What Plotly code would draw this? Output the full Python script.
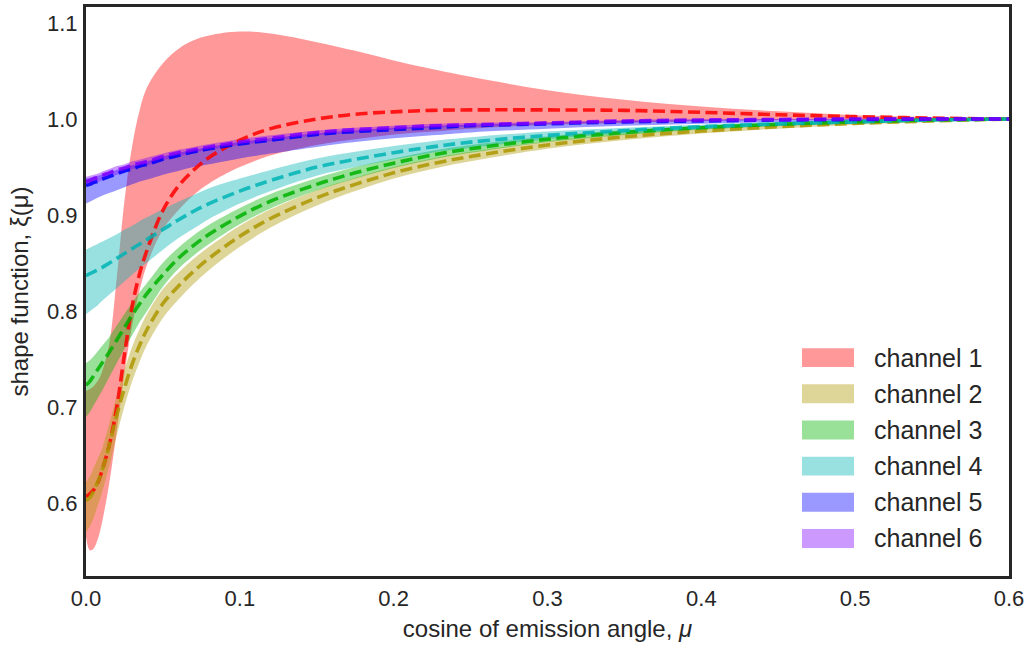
import plotly.graph_objects as go

# ---------------- data ----------------
mu = [0, 0.0025, 0.005, 0.0075, 0.01, 0.015, 0.02, 0.025, 0.03, 0.035, 0.04, 0.05,
      0.06, 0.07, 0.08, 0.1, 0.12, 0.15, 0.175, 0.2, 0.225, 0.25, 0.3, 0.35, 0.4, 0.45, 0.5, 0.55, 0.6]

channels = ["channel 1", "channel 2", "channel 3", "channel 4", "channel 5", "channel 6"]

ch1_mean = [0.607, 0.610, 0.614, 0.621, 0.632, 0.660, 0.700, 0.755, 0.805, 0.840, 0.865, 0.905,
            0.930, 0.947, 0.960, 0.978, 0.990, 1.000, 1.005, 1.0075, 1.009, 1.0095, 1.0095, 1.009, 1.007, 1.0045, 1.0025, 1.001, 1.000]
ch1_lo = [0.565, 0.551, 0.553, 0.562, 0.577, 0.620, 0.675, 0.735, 0.785, 0.823, 0.850, 0.885,
          0.905, 0.921, 0.933, 0.950, 0.962, 0.973, 0.979, 0.984, 0.987, 0.990, 0.994, 0.996, 0.998, 0.999, 0.9995, 1.000, 1.000]
ch1_hi = [0.717, 0.719, 0.722, 0.727, 0.735, 0.765, 0.835, 0.915, 0.972, 1.010, 1.034, 1.058,
          1.073, 1.082, 1.087, 1.091, 1.089, 1.080, 1.071, 1.061, 1.052, 1.044, 1.030, 1.020, 1.013, 1.008, 1.004, 1.002, 1.000]

ch2_mean = [0.603, 0.606, 0.613, 0.622, 0.632, 0.660, 0.692, 0.720, 0.745, 0.765, 0.782, 0.808,
            0.826, 0.8415, 0.855, 0.878, 0.8965, 0.918, 0.932, 0.944, 0.9535, 0.961, 0.973, 0.9815, 0.9875, 0.992, 0.9955, 0.998, 1.000]
ch2_lo = [0.570, 0.576, 0.585, 0.597, 0.609, 0.638, 0.671, 0.701, 0.727, 0.748, 0.766, 0.793,
          0.812, 0.8285, 0.843, 0.867, 0.887, 0.910, 0.925, 0.938, 0.948, 0.956, 0.969, 0.9782, 0.9849, 0.990, 0.994, 0.997, 0.9995]
ch2_hi = [0.622, 0.628, 0.637, 0.646, 0.655, 0.682, 0.712, 0.739, 0.763, 0.782, 0.798, 0.823,
          0.840, 0.8545, 0.867, 0.889, 0.906, 0.926, 0.939, 0.950, 0.959, 0.966, 0.977, 0.9848, 0.9901, 0.994, 0.997, 0.999, 1.0005]

ch3_mean = [0.723, 0.727, 0.733, 0.739, 0.745, 0.757, 0.770, 0.783, 0.796, 0.808, 0.819, 0.838,
            0.855, 0.8685, 0.880, 0.899, 0.9145, 0.932, 0.944, 0.954, 0.9625, 0.969, 0.979, 0.986, 0.991, 0.9945, 0.997, 0.999, 1.000]
ch3_lo = [0.690, 0.695, 0.702, 0.709, 0.716, 0.731, 0.746, 0.761, 0.775, 0.789, 0.801, 0.8255,
          0.844, 0.858, 0.870, 0.8905, 0.907, 0.9255, 0.938, 0.949, 0.958, 0.965, 0.976, 0.9835, 0.989, 0.9928, 0.9958, 0.9982, 0.9995]
ch3_hi = [0.746, 0.749, 0.753, 0.758, 0.763, 0.773, 0.785, 0.797, 0.809, 0.820, 0.830, 0.8505,
          0.866, 0.879, 0.890, 0.9075, 0.922, 0.9385, 0.950, 0.959, 0.967, 0.973, 0.982, 0.9885, 0.993, 0.9962, 0.9982, 0.9998, 1.0005]

ch4_mean = [0.837, 0.839, 0.841, 0.843, 0.845, 0.850, 0.855, 0.860, 0.865, 0.870, 0.875, 0.885,
            0.895, 0.904, 0.912, 0.925, 0.936, 0.950, 0.958, 0.965, 0.971, 0.976, 0.983, 0.988, 0.992, 0.995, 0.997, 0.999, 1.000]
ch4_lo = [0.797, 0.800, 0.803, 0.806, 0.810, 0.817, 0.824, 0.831, 0.838, 0.845, 0.851, 0.864,
          0.876, 0.886, 0.896, 0.912, 0.925, 0.941, 0.950, 0.958, 0.965, 0.970, 0.979, 0.985, 0.989, 0.993, 0.995, 0.998, 0.9995]
ch4_hi = [0.864, 0.866, 0.868, 0.870, 0.872, 0.876, 0.880, 0.885, 0.889, 0.894, 0.898, 0.906,
          0.914, 0.921, 0.928, 0.938, 0.947, 0.959, 0.966, 0.972, 0.977, 0.981, 0.987, 0.991, 0.994, 0.997, 0.998, 0.9995, 1.0005]

ch5_mean = [0.931, 0.932, 0.934, 0.935, 0.937, 0.940, 0.943, 0.946, 0.948, 0.951, 0.953, 0.958,
            0.962, 0.966, 0.969, 0.974, 0.978, 0.984, 0.987, 0.989, 0.991, 0.993, 0.995, 0.997, 0.998, 0.999, 0.9995, 1.000, 1.000]
ch5_lo = [0.912, 0.914, 0.916, 0.918, 0.920, 0.923, 0.926, 0.929, 0.932, 0.935, 0.937, 0.942,
          0.946, 0.950, 0.953, 0.959, 0.964, 0.971, 0.976, 0.980, 0.983, 0.986, 0.990, 0.993, 0.995, 0.997, 0.998, 0.999, 0.9995]
ch5_hi = [0.938, 0.939, 0.940, 0.941, 0.942, 0.945, 0.947, 0.950, 0.952, 0.954, 0.956, 0.961,
          0.965, 0.968, 0.971, 0.976, 0.980, 0.985, 0.988, 0.991, 0.9925, 0.994, 0.996, 0.998, 0.999, 0.9995, 1.000, 1.000, 1.0005]

ch6_mean = [0.935, 0.936, 0.938, 0.939, 0.941, 0.944, 0.947, 0.949, 0.952, 0.954, 0.956, 0.961,
            0.965, 0.968, 0.971, 0.976, 0.980, 0.986, 0.989, 0.991, 0.993, 0.994, 0.996, 0.998, 0.999, 0.9995, 1.000, 1.000, 1.000]
ch6_lo = [0.930, 0.931, 0.933, 0.934, 0.936, 0.939, 0.942, 0.945, 0.948, 0.950, 0.952, 0.957,
          0.961, 0.965, 0.968, 0.973, 0.977, 0.983, 0.986, 0.989, 0.991, 0.992, 0.995, 0.997, 0.998, 0.999, 0.9995, 0.9995, 0.9995]
ch6_hi = [0.940, 0.941, 0.942, 0.943, 0.945, 0.948, 0.951, 0.953, 0.956, 0.958, 0.960, 0.964,
          0.968, 0.971, 0.974, 0.979, 0.983, 0.988, 0.991, 0.993, 0.995, 0.996, 0.997, 0.999, 1.000, 1.000, 1.0005, 1.0005, 1.0005]

x_ticks = [0.0, 0.1, 0.2, 0.3, 0.4, 0.5, 0.6]
y_ticks = [0.6, 0.7, 0.8, 0.9, 1.0, 1.1]

means = [ch1_mean, ch2_mean, ch3_mean, ch4_mean, ch5_mean, ch6_mean]
lows = [ch1_lo, ch2_lo, ch3_lo, ch4_lo, ch5_lo, ch6_lo]
highs = [ch1_hi, ch2_hi, ch3_hi, ch4_hi, ch5_hi, ch6_hi]
for arr in means + lows + highs:
    assert len(arr) == len(mu)

# ---------------- style ----------------
base = [(255, 0, 0), (172, 150, 0), (0, 178, 0), (0, 180, 180), (0, 0, 255), (128, 0, 255)]
fill_cols = ["rgba(%d,%d,%d,0.4)" % c for c in base]
line_cols = ["rgba(%d,%d,%d,0.85)" % c for c in base]
TXT = "#262626"
FONT = "Liberation Sans, Arial, sans-serif"

fig = go.Figure()

# bands first (all under the lines)
for i in range(6):
    fig.add_trace(go.Scatter(x=mu, y=lows[i], mode="lines", line=dict(width=0, shape="spline"),
                             showlegend=False, hoverinfo="skip"))
    fig.add_trace(go.Scatter(x=mu, y=highs[i], mode="lines", line=dict(width=0, shape="spline"),
                             fill="tonexty", fillcolor=fill_cols[i], name=channels[i],
                             showlegend=False, hoverinfo="skip"))

# dashed mean curves
for i in range(6):
    fig.add_trace(go.Scatter(x=mu, y=means[i], mode="lines",
                             line=dict(color=line_cols[i], width=3.6, dash="12px,5.5px", shape="spline"),
                             showlegend=False))

# manual legend (big patches like the reference)
L, R, T, B = 86, 23, 4, 73
W, H = 1032, 649
pw, ph = W - L - R, H - T - B
shapes = []
annotations = []
for i, name in enumerate(channels):
    cy = 356.5 + i * 36.35
    shapes.append(dict(type="rect", xref="paper", yref="paper",
                       x0=(802 - L) / pw, x1=(854 - L) / pw,
                       y0=(H - B - (cy + 9.5)) / ph, y1=(H - B - (cy - 9.5)) / ph,
                       fillcolor=fill_cols[i], line=dict(width=0)))
    annotations.append(dict(xref="paper", yref="paper", x=(872 - L) / pw, y=(H - B - cy) / ph,
                            text=name, showarrow=False, xanchor="left", yanchor="middle",
                            font=dict(size=25, color=TXT, family=FONT)))

fig.update_layout(
    width=W, height=H,
    margin=dict(l=L, r=R, t=T, b=B),
    paper_bgcolor="white", plot_bgcolor="white",
    font=dict(family=FONT, color=TXT, size=21),
    shapes=shapes, annotations=annotations,
    showlegend=False,
)
fig.update_xaxes(range=[0, 0.6], tickvals=x_ticks, ticktext=["%.1f" % v for v in x_ticks],
                 showgrid=False, zeroline=False, showline=True, mirror=True,
                 linecolor=TXT, linewidth=3, ticks="outside", ticklen=1,
                 tickcolor="rgba(0,0,0,0)", tickfont=dict(size=22, color=TXT),
                 title=dict(text="cosine of emission angle, <i>μ</i>", font=dict(size=24, color=TXT),
                            standoff=10))
fig.update_yaxes(range=[0.5244, 1.1166], tickvals=y_ticks, ticktext=["%.1f" % v for v in y_ticks],
                 showgrid=False, zeroline=False, showline=True, mirror=True,
                 linecolor=TXT, linewidth=3, ticks="outside", ticklen=1,
                 tickcolor="rgba(0,0,0,0)", tickfont=dict(size=22, color=TXT),
                 title=dict(text="shape function, ξ(μ)", font=dict(size=24, color=TXT),
                            standoff=12))

fig.write_html("out.html")
